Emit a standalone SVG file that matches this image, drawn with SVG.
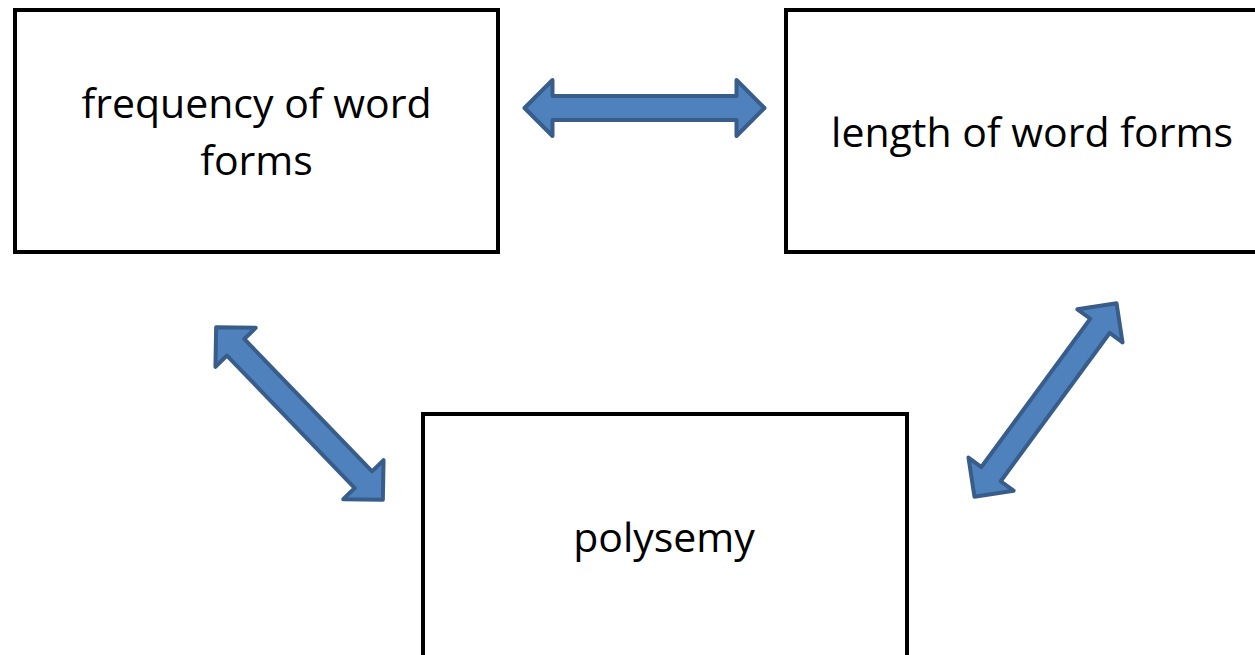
<svg xmlns="http://www.w3.org/2000/svg" width="1255" height="655" viewBox="0 0 1255 655">
  <style>
    .box { fill: #ffffff; stroke: #000000; stroke-width: 4; }
    .label { font-family: "Open Sans", "Liberation Sans", sans-serif; font-size: 41px; fill: #000000; text-anchor: middle; }
    .dbl { fill: #4F81BD; stroke: #385D8A; stroke-width: 4; stroke-linejoin: round; }
  </style>
  <defs>
    <!-- double-headed block arrow, centred on the origin, pointing along x -->
    <path id="dblArrow" d="M -120,0 L -92,-28 L -92,-12 L 92,-12 L 92,-28 L 120,0 L 92,28 L 92,12 L -92,12 L -92,28 Z"/>
  </defs>
  <rect width="1255" height="655" fill="#ffffff"/>

  <g id="node-frequency">
    <rect class="box" x="15" y="10" width="483" height="242"/>
    <text class="label" x="256.5" y="118">frequency of word</text>
    <text class="label" x="256.5" y="175">forms</text>
  </g>

  <g id="node-length">
    <rect class="box" x="786" y="10" width="492" height="242"/>
    <text class="label" x="1032" y="147">length of word forms</text>
  </g>

  <g id="node-polysemy">
    <rect class="box" x="423" y="414" width="484" height="260"/>
    <text class="label" x="664" y="552">polysemy</text>
  </g>

  <g id="connectors">
    <use href="#dblArrow" class="dbl" transform="translate(644.5,108)"/>
    <use href="#dblArrow" class="dbl" transform="translate(299.5,413.5) rotate(46)"/>
    <use href="#dblArrow" class="dbl" transform="translate(1045.5,400) rotate(-53.7)"/>
  </g>
</svg>
